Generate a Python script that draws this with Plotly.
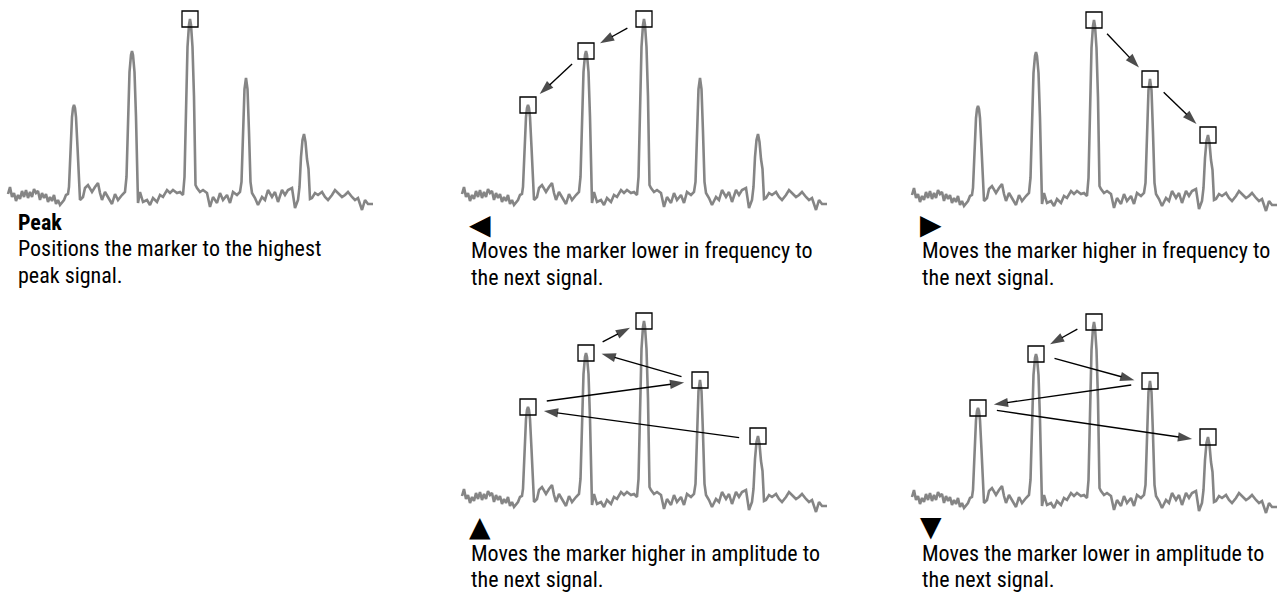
import math
import plotly.graph_objects as go

# ---------------- data ----------------
# Spectrum trace shared by all five diagrams (frequency in display units, amplitude above noise floor)
trace_freq = [
    0, 2, 4, 6, 8, 10, 12, 14, 16, 18, 20, 22, 24, 26, 28, 30, 32, 34, 36, 38, 40, 42, 44, 46, 48, 50, 52, 54, 56, 58, 60,
    61, 62.5, 64, 65, 66, 67, 68, 69.5, 71, 72,
    75, 77, 80, 84, 87, 90, 92, 94, 97, 100, 104, 107, 110, 114, 117,
    118.5, 120, 121.5, 123, 124, 125, 126.5, 128, 129.5,
    130, 132, 135, 139, 142, 145, 149, 152, 155, 159, 162, 165, 169, 172, 175,
    176.5, 178, 179.5, 181, 182, 183, 184.5, 186, 187.5,
    189, 192, 195, 199, 202, 205, 209, 212, 215, 219, 222, 225, 229, 232,
    233.5, 235, 236.5, 238, 239.5, 241, 242.5, 244,
    247, 250, 254, 257, 260, 264, 267, 270, 274, 277, 280, 284, 287, 290,
    291.5, 293, 294.5, 296, 297.5, 299, 300.5, 302,
    304, 307, 310, 314, 317, 320, 324, 327, 330, 334, 337, 340, 344, 347, 350, 354, 357, 360, 365,
]
trace_amp = [
    3, 10, 0, 4, -4, 2, -2, 6, 0, 7, -1, 5, 0, 8, 4, 6, -3, 4, -1, 3, -5, 0, -4, 2, -7, -3, -8, -5, -3, 2, 3,
    10, 50, 80, 89, 92, 89, 80, 50, 15, -3,
    0, 9, 12, 5, 10, 14, 4, -3, 5, 0, -7, 3, -3, 2, 5,
    20, 80, 125, 142, 146, 142, 125, 80, 20,
    -6, 5, -5, -3, -8, -1, -5, 2, 0, 7, 4, 7, 4, 5, 2,
    20, 100, 150, 172, 178, 172, 150, 100, 12,
    9, 5, 7, 4, -10, 0, -6, 4, -3, 2, -6, 5, 2, 5,
    15, 65, 108, 119, 108, 65, 15, 4,
    -1, -8, 0, -3, 7, 0, 5, -5, 7, 2, 7, 9, -11, -3,
    10, 40, 57, 63, 55, 38, 28, -2,
    -1, 4, 2, 5, 0, -3, 2, 7, 4, 0, 2, 5, 0, -3, -1, -13, -3, -7, -7,
]

# Signal peaks (where the marker can sit)
peak_freq = [66, 124, 182, 238, 296]
peak_amp = [92, 146, 178, 119, 63]

# Order in which the marker visits the peaks for each key
order_peak = [2]
order_left = [2, 1, 0]
order_right = [2, 3, 4]
order_up = [4, 0, 3, 1, 2]
order_down = [2, 1, 3, 0, 4]

# Captions
key_peak = "<b>Peak</b>"
key_left = "◀"
key_right = "▶"
key_up = "▲"
key_down = "▼"
lines_peak = ["Positions the marker to the highest", "peak signal."]
lines_left = ["Moves the marker lower in frequency to", "the next signal."]
lines_right = ["Moves the marker higher in frequency to", "the next signal."]
lines_up = ["Moves the marker higher in amplitude to", "the next signal."]
lines_down = ["Moves the marker lower in amplitude to", "the next signal."]

# ---------------- layout / style ----------------
W, H = 1278, 593
TEXT_FONT = "Roboto Condensed, Liberation Sans Narrow, Arial Narrow, sans-serif"
TRACE_COLOR = "#858585"
Y_RANGE = [-20, 195]

panels = [
    dict(order=order_peak, x0=8, base=197, key=key_peak, lines=lines_peak, tx=16,
         ky=223, ly=[248, 275], shifts=None),
    dict(order=order_left, x0=462, base=197, key=key_left, lines=lines_left, tx=469,
         ky=224, ly=[250, 277], shifts=None),
    dict(order=order_right, x0=912, base=198, key=key_right, lines=lines_right, tx=920,
         ky=224, ly=[250, 277], shifts=None),
    dict(order=order_up, x0=462, base=499, key=key_up, lines=lines_up, tx=469,
         ky=526, ly=[553, 579], shifts=[(-4, -2), (3, 0), (-1, 3), (2, 1)]),
    dict(order=order_down, x0=912, base=500, key=key_down, lines=lines_down, tx=920,
         ky=526, ly=[553, 579], shifts=[(2, 2), (0, -3), (-1, 1), (0, -4)]),
]

TAIL_GAP, HEAD_GAP = 19, 16

fig = go.Figure()
layout = dict(
    width=W, height=H, margin=dict(l=0, r=0, t=0, b=0),
    paper_bgcolor="white", plot_bgcolor="white",
    showlegend=False, hovermode=False,
)
annotations = []

for i, p in enumerate(panels, start=1):
    xs = "" if i == 1 else str(i)
    xref, yref = "x" + xs, "y" + xs
    r0, r1 = -6, min(370, W - p["x0"])
    layout["xaxis" + xs] = dict(domain=[(p["x0"] + r0) / W, (p["x0"] + r1) / W], range=[r0, r1],
                                visible=False, fixedrange=True, anchor=yref)
    layout["yaxis" + xs] = dict(domain=[(H - (p["base"] - Y_RANGE[0])) / H, (H - (p["base"] - Y_RANGE[1])) / H],
                                range=Y_RANGE, visible=False, fixedrange=True, anchor=xref)

    fig.add_trace(go.Scatter(x=trace_freq, y=trace_amp, mode="lines", xaxis=xref, yaxis=yref,
                             line=dict(color=TRACE_COLOR, width=2.6), cliponaxis=False))

    order = p["order"]
    fig.add_trace(go.Scatter(
        x=[peak_freq[k] for k in order], y=[peak_amp[k] for k in order],
        mode="markers", xaxis=xref, yaxis=yref, cliponaxis=False,
        marker=dict(symbol="square-open", size=16, color="black", line=dict(width=1.3, color="black"))))

    for j in range(len(order) - 1):
        a, b = order[j], order[j + 1]
        xa, ya, xb, yb = peak_freq[a], peak_amp[a], peak_freq[b], peak_amp[b]
        dx, dy = xb - xa, yb - ya
        L = math.hypot(dx, dy)
        ts, hs = p["shifts"][j] if p["shifts"] else (0, 0)
        tx_, ty_ = xa + dx / L * TAIL_GAP, ya + dy / L * TAIL_GAP + ts
        hx_, hy_ = xb - dx / L * HEAD_GAP, yb - dy / L * HEAD_GAP + hs
        fig.add_trace(go.Scatter(
            x=[tx_, hx_], y=[ty_, hy_], mode="lines+markers", xaxis=xref, yaxis=yref, cliponaxis=False,
            line=dict(color="black", width=1.4),
            marker=dict(symbol="arrow", size=[0, 15], angleref="previous", color="black",
                        line=dict(width=0))))

    if i == 1:
        annotations.append(dict(text=p["key"], x=p["tx"] / W, y=(H - p["ky"]) / H, xref="paper", yref="paper",
                                xanchor="left", yanchor="middle", showarrow=False,
                                font=dict(family=TEXT_FONT, size=22, color="black")))
    else:
        annotations.append(dict(text=p["key"], x=(p["tx"] - 2) / W, y=(H - p["ky"]) / H, xref="paper", yref="paper",
                                xanchor="left", yanchor="middle", showarrow=False,
                                font=dict(family="DejaVu Sans", size=28, color="black")))
    for line, ly in zip(p["lines"], p["ly"]):
        annotations.append(dict(text=line, x=p["tx"] / W, y=(H - ly) / H, xref="paper", yref="paper",
                                xanchor="left", yanchor="middle", showarrow=False,
                                font=dict(family=TEXT_FONT, size=22, color="black")))

layout["annotations"] = annotations
fig.update_layout(**layout)
post = """
document.body.style.margin='0';
document.documentElement.style.margin='0';
"""
fig.write_html("out.html", config={"displayModeBar": False, "staticPlot": True}, post_script=post)
